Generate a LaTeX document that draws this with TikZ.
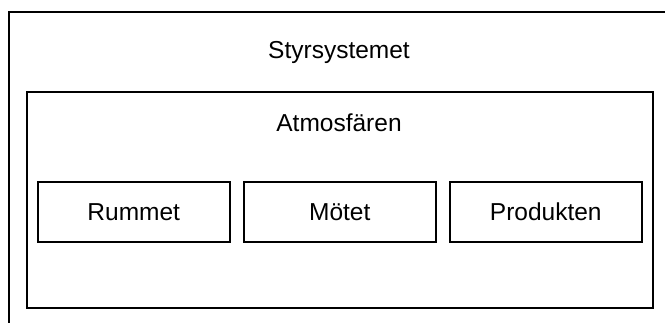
\documentclass[tikz,border=0pt]{standalone}
\usepackage{fontspec}
\setmainfont{Liberation Sans}
\usetikzlibrary{positioning}
\begin{document}
\begin{tikzpicture}[
	x=1pt, y=-1pt,% 1 Einheit = 1 Bildpunkt, y nach unten
	line width=1.5pt,
	node distance=12.5pt,
	font=\fontsize{24.5}{29}\selectfont,
	ruta/.style={draw, minimum width=192pt, minimum height=60pt, inner sep=0pt},
	rubrik/.style={anchor=base, inner sep=0pt}
]
\useasboundingbox (0,0) rectangle (665,322);
%
\node(styrsystemet)%
    [draw, anchor=north west, minimum width=700pt, minimum height=340pt]%
    at (8,11) {};%
\node(titel)%
    [rubrik]%
    at (339,58) {Styrsystemet};%
%
\node(atmosfaren)%
    [draw, anchor=north west, minimum width=626pt, minimum height=216pt]%
    at (26,91) {};%
\node(undertitel)%
    [rubrik]%
    at (339,131) {Atmosfären};%
%
\node(rummet)%
    [ruta, anchor=north west]%
    at (37,181) {Rummet};%
\node(motet)%
    [ruta, right=of rummet]%
    {Mötet};%
\node(produkten)%
    [ruta, right=of motet]%
    {Produkten};%
%
\end{tikzpicture}
\end{document}
